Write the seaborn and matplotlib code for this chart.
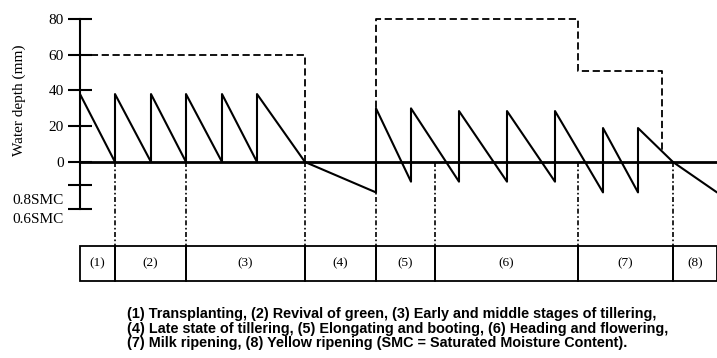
import pandas as pd
import matplotlib.pyplot as plt
import seaborn as sns
from matplotlib.patches import Rectangle
from matplotlib.transforms import ScaledTranslation

# time axis in arbitrary units (days from transplanting)
depth_t = [0, 35, 35, 71, 71, 106, 106, 142, 142, 177, 177, 225, 296, 296, 331, 331,
           379, 379, 427, 427, 475, 475, 523, 523, 558, 558, 593, 637]
depth_mm = [38, 0, 38, 0, 38, 0, 38, 0, 38, 0, 38, 0, -17, 30, -11, 30,
            -11, 28.5, -11, 28.5, -11, 28.5, -17, 19, -17, 19, 0, -17]

upper1_t = [0, 225, 225]
upper1_mm = [60, 60, 0]
upper2_t = [296, 296, 498, 498, 582, 582]
upper2_mm = [0, 80, 80, 51, 51, 5]

stage_bounds = [0, 35, 106, 225, 296, 355, 498, 593, 637]
stage_labels = ['(1)', '(2)', '(3)', '(4)', '(5)', '(6)', '(7)', '(8)']

ytick_vals = [80, 60, 40, 20, 0, -13, -26.3]
ytick_text = ['80', '60', '40', '20', '0', '0.8SMC', '0.6SMC']

caption = ("(1) Transplanting, (2) Revival of green, (3) Early and middle stages of tillering,\n"
           "(4) Late state of tillering, (5) Elongating and booting, (6) Heading and flowering,\n"
           "(7) Milk ripening, (8) Yellow ripening (SMC = Saturated Moisture Content).")

sns.set_style("white")
plt.rcParams['font.family'] = ['Liberation Serif', 'DejaVu Serif']
plt.rcParams['text.color'] = 'black'
plt.rcParams['axes.labelcolor'] = 'black'

fig = plt.figure(figsize=(7.17, 3.58), dpi=100)
ax = fig.add_axes([80 / 717, (358 - 283.6) / 358, 637 / 717, 283.6 / 358])

df = pd.DataFrame({'t': depth_t, 'mm': depth_mm})
sns.lineplot(data=df, x='t', y='mm', sort=False, estimator=None, color='black',
             lw=1.5, ax=ax)
up1 = pd.DataFrame({'t': upper1_t, 'mm': upper1_mm})
up2 = pd.DataFrame({'t': upper2_t, 'mm': upper2_mm})
for up in (up1, up2):
    sns.lineplot(data=up, x='t', y='mm', sort=False, estimator=None, color='black',
                 lw=1.3, ax=ax, linestyle=(0, (4, 2)))

# zero line
ax.axhline(0, color='black', lw=2, zorder=1)

# stage boundaries and the stage table
box_top, box_bot = -47, -66.4
for b in stage_bounds[1:-1]:
    ax.plot([b, b], [0, box_top], color='black', lw=1.2, linestyle=(0, (3, 1.5, 1, 1.5)))
for i, lab in enumerate(stage_labels):
    x0, x1 = stage_bounds[i], stage_bounds[i + 1]
    ax.add_patch(Rectangle((x0, box_bot), x1 - x0, box_top - box_bot, fill=False,
                           edgecolor='black', lw=1.3, clip_on=False))
    ax.text((x0 + x1) / 2, (box_top + box_bot) / 2, lab, ha='center', va='center',
            fontsize=9.5)

ax.set_xlim(0, 637)
ax.set_ylim(-68, 90.6)
ax.set_xticks([])
ax.set_xlabel('')
for s in ['top', 'right', 'bottom']:
    ax.spines[s].set_visible(False)
ax.spines['left'].set_bounds(-26.3, 80)
ax.spines['left'].set_linewidth(1.5)
ax.spines['left'].set_color('black')
ax.set_yticks(ytick_vals)
ax.set_yticklabels(ytick_text, fontsize=11)
ax.tick_params(axis='y', direction='inout', length=17, width=1.5, pad=3, left=True,
               colors='black')
smc_labels = ax.get_yticklabels()[5:]
for lab, dy in zip(smc_labels, [10, 6.5]):
    off = ScaledTranslation(0, -dy / 72, fig.dpi_scale_trans)
    lab.set_transform(lab.get_transform() + off)

ax.set_ylabel('Water depth (mm)', fontsize=11, color='black')
ax.yaxis.set_label_coords(-54 / 637, (283.6 - 100) / 283.6)

fig.text(127 / 717, 1 - 307 / 358, caption, ha='left', va='top', fontsize=10.4,
         fontweight='bold', family=['Liberation Sans', 'DejaVu Sans'], linespacing=1.05,
         color='black')

fig.savefig('out.png', dpi=100)
plt.close()
